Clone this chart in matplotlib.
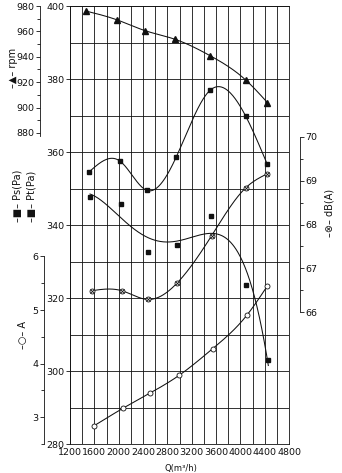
import matplotlib
matplotlib.use('Agg')
import matplotlib.pyplot as plt
import numpy as np

plt.rcParams['font.family'] = ['Liberation Sans Narrow', 'DejaVu Sans']

# Fan performance readings, one Q list per curve
q_rpm = [1463, 1978, 2433, 2926, 3502, 4089, 4444]
rpm = [976, 969, 960.6, 953.8, 940.9, 921.7, 904]

q_pt = [1517, 2022, 2461, 2943, 3502, 4089, 4444]
pt = [354.6, 357.5, 349.5, 358.5, 376.9, 369.8, 356.6]

q_ps = [1529, 2033, 2477, 2955, 3518, 4094, 4460]
ps = [347.6, 345.7, 332.7, 334.5, 342.5, 323.6, 303.0]

q_db = [1557, 2050, 2487, 2964, 3530, 4089, 4444]
db = [66.49, 66.49, 66.29, 66.67, 67.75, 68.84, 69.16]

q_amp = [1595, 2076, 2515, 2992, 3546, 4105, 4444]
amp = [2.84, 3.17, 3.45, 3.78, 4.28, 4.90, 5.45]

INK = '#111111'


def spline(x, y, n=300):
    # natural cubic spline through the readings
    x = np.asarray(x, float)
    y = np.asarray(y, float)
    k = len(x)
    h = np.diff(x)
    A = np.zeros((k, k))
    r = np.zeros(k)
    A[0, 0] = A[-1, -1] = 1
    for i in range(1, k - 1):
        A[i, i - 1] = h[i - 1]
        A[i, i] = 2 * (h[i - 1] + h[i])
        A[i, i + 1] = h[i]
        r[i] = 3 * ((y[i + 1] - y[i]) / h[i] - (y[i] - y[i - 1]) / h[i - 1])
    c = np.linalg.solve(A, r)
    b = (y[1:] - y[:-1]) / h - h * (2 * c[:-1] + c[1:]) / 3
    d = (c[1:] - c[:-1]) / (3 * h)
    xs = np.linspace(x[0], x[-1], n)
    i = np.clip(np.searchsorted(x, xs) - 1, 0, k - 2)
    t = xs - x[i]
    return xs, y[i] + b[i] * t + c[i] * t ** 2 + d[i] * t ** 3


def fitted(x, y, deg=4, n=300):
    # least squares trend line
    x = np.asarray(x, float) / 1000
    p = np.polyfit(x, y, deg)
    xs = np.linspace(x[0], x[-1], n)
    return xs * 1000, np.polyval(p, xs)


W, H = 342, 473
fig = plt.figure(figsize=(W / 100, H / 100), dpi=100)
ax = fig.add_axes([70 / W, 29 / H, 219 / W, 438 / H])

ax.set_xlim(1200, 4800)
ax.set_ylim(280, 400)
ax.set_xticks(np.arange(1200, 4801, 400))
ax.set_xticks(np.arange(1200, 4801, 200), minor=True)
ax.set_yticks(np.arange(280, 401, 20))
ax.set_yticks(np.arange(280, 401, 10), minor=True)
ax.grid(which='both', color=INK, lw=0.6)
ax.tick_params(which='minor', length=0)
ax.tick_params(which='major', length=3, width=0.6, labelsize=6.8, pad=1,
               colors=INK)
ax.tick_params(axis='x', length=0, pad=3)
for s in ax.spines.values():
    s.set_linewidth(0.6)
    s.set_color(INK)


def side_axis(lo, hi, side, pos, bounds, major, minor):
    a = ax.twinx()
    a.set_ylim(lo, hi)
    if side == 'left':
        a.yaxis.tick_left()
    else:
        a.yaxis.tick_right()
    for s in ['top', 'bottom', 'left', 'right']:
        a.spines[s].set_visible(s == side)
    a.spines[side].set_position(('axes', pos))
    a.spines[side].set_bounds(*bounds)
    a.spines[side].set_linewidth(0.6)
    a.spines[side].set_color(INK)
    a.set_yticks(major)
    a.set_yticks(minor, minor=True)
    a.tick_params(which='major', length=3, width=0.6, labelsize=6.8, pad=1,
                  colors=INK)
    a.tick_params(which='minor', length=2, width=0.6, colors=INK)
    return a


ar = side_axis(635.1, 980, 'left', -30 / 219, (878, 980),
               np.arange(880, 981, 20), np.arange(880, 981, 10))
aa = side_axis(2.518, 10.674, 'left', -26 / 219, (2.5, 6),
               [3, 4, 5, 6], np.arange(2.5, 6.01, 0.5))
ad = side_axis(62.99, 72.99, 'right', 230 / 219, (66, 70),
               [66, 67, 68, 69, 70], np.arange(66, 70.01, 0.5))

lw = 0.75

# rpm
ar.plot(*spline(q_rpm, rpm), color=INK, lw=lw)
ar.plot(q_rpm, rpm, ls='none', marker='^', ms=4, color=INK)

# total and static pressure
ax.plot(*spline(q_pt, pt), color=INK, lw=lw)
ax.plot(q_pt, pt, ls='none', marker='s', ms=3, color=INK)
ax.plot(*fitted(q_ps, ps), color=INK, lw=lw)
ax.plot(q_ps, ps, ls='none', marker='s', ms=3, color=INK)

# noise level
ad.plot(*spline(q_db, db), color=INK, lw=lw)
ad.plot(q_db, db, ls='none', marker='o', ms=3.6, mfc='white', mec=INK,
        mew=0.6)
ad.plot(q_db, db, ls='none', marker='x', ms=2.4, mec=INK, mew=0.6)

# current
aa.plot(*spline(q_amp, amp), color=INK, lw=lw)
aa.plot(q_amp, amp, ls='none', marker='o', ms=3.6, mfc='white', mec=INK,
        mew=0.6)

lab = dict(rotation=90, ha='center', va='center', fontsize=7, color=INK)
fig.text(13 / W, 1 - 68 / H, '–▲– rpm', **lab)
fig.text(17 / W, 1 - 196 / H, '–■– Ps(Pa)', **lab)
fig.text(32 / W, 1 - 196 / H, '–■– Pt(Pa)', **lab)
fig.text(23 / W, 1 - 335 / H, '–○– A', **lab)
fig.text(330 / W, 1 - 213 / H, '–⊗– dB(A)', **lab)
fig.text(181 / W, 1 - 468 / H, 'Q(m³/h)', ha='center', va='center',
         fontsize=6, color=INK)

fig.savefig('out.png', dpi=100)
